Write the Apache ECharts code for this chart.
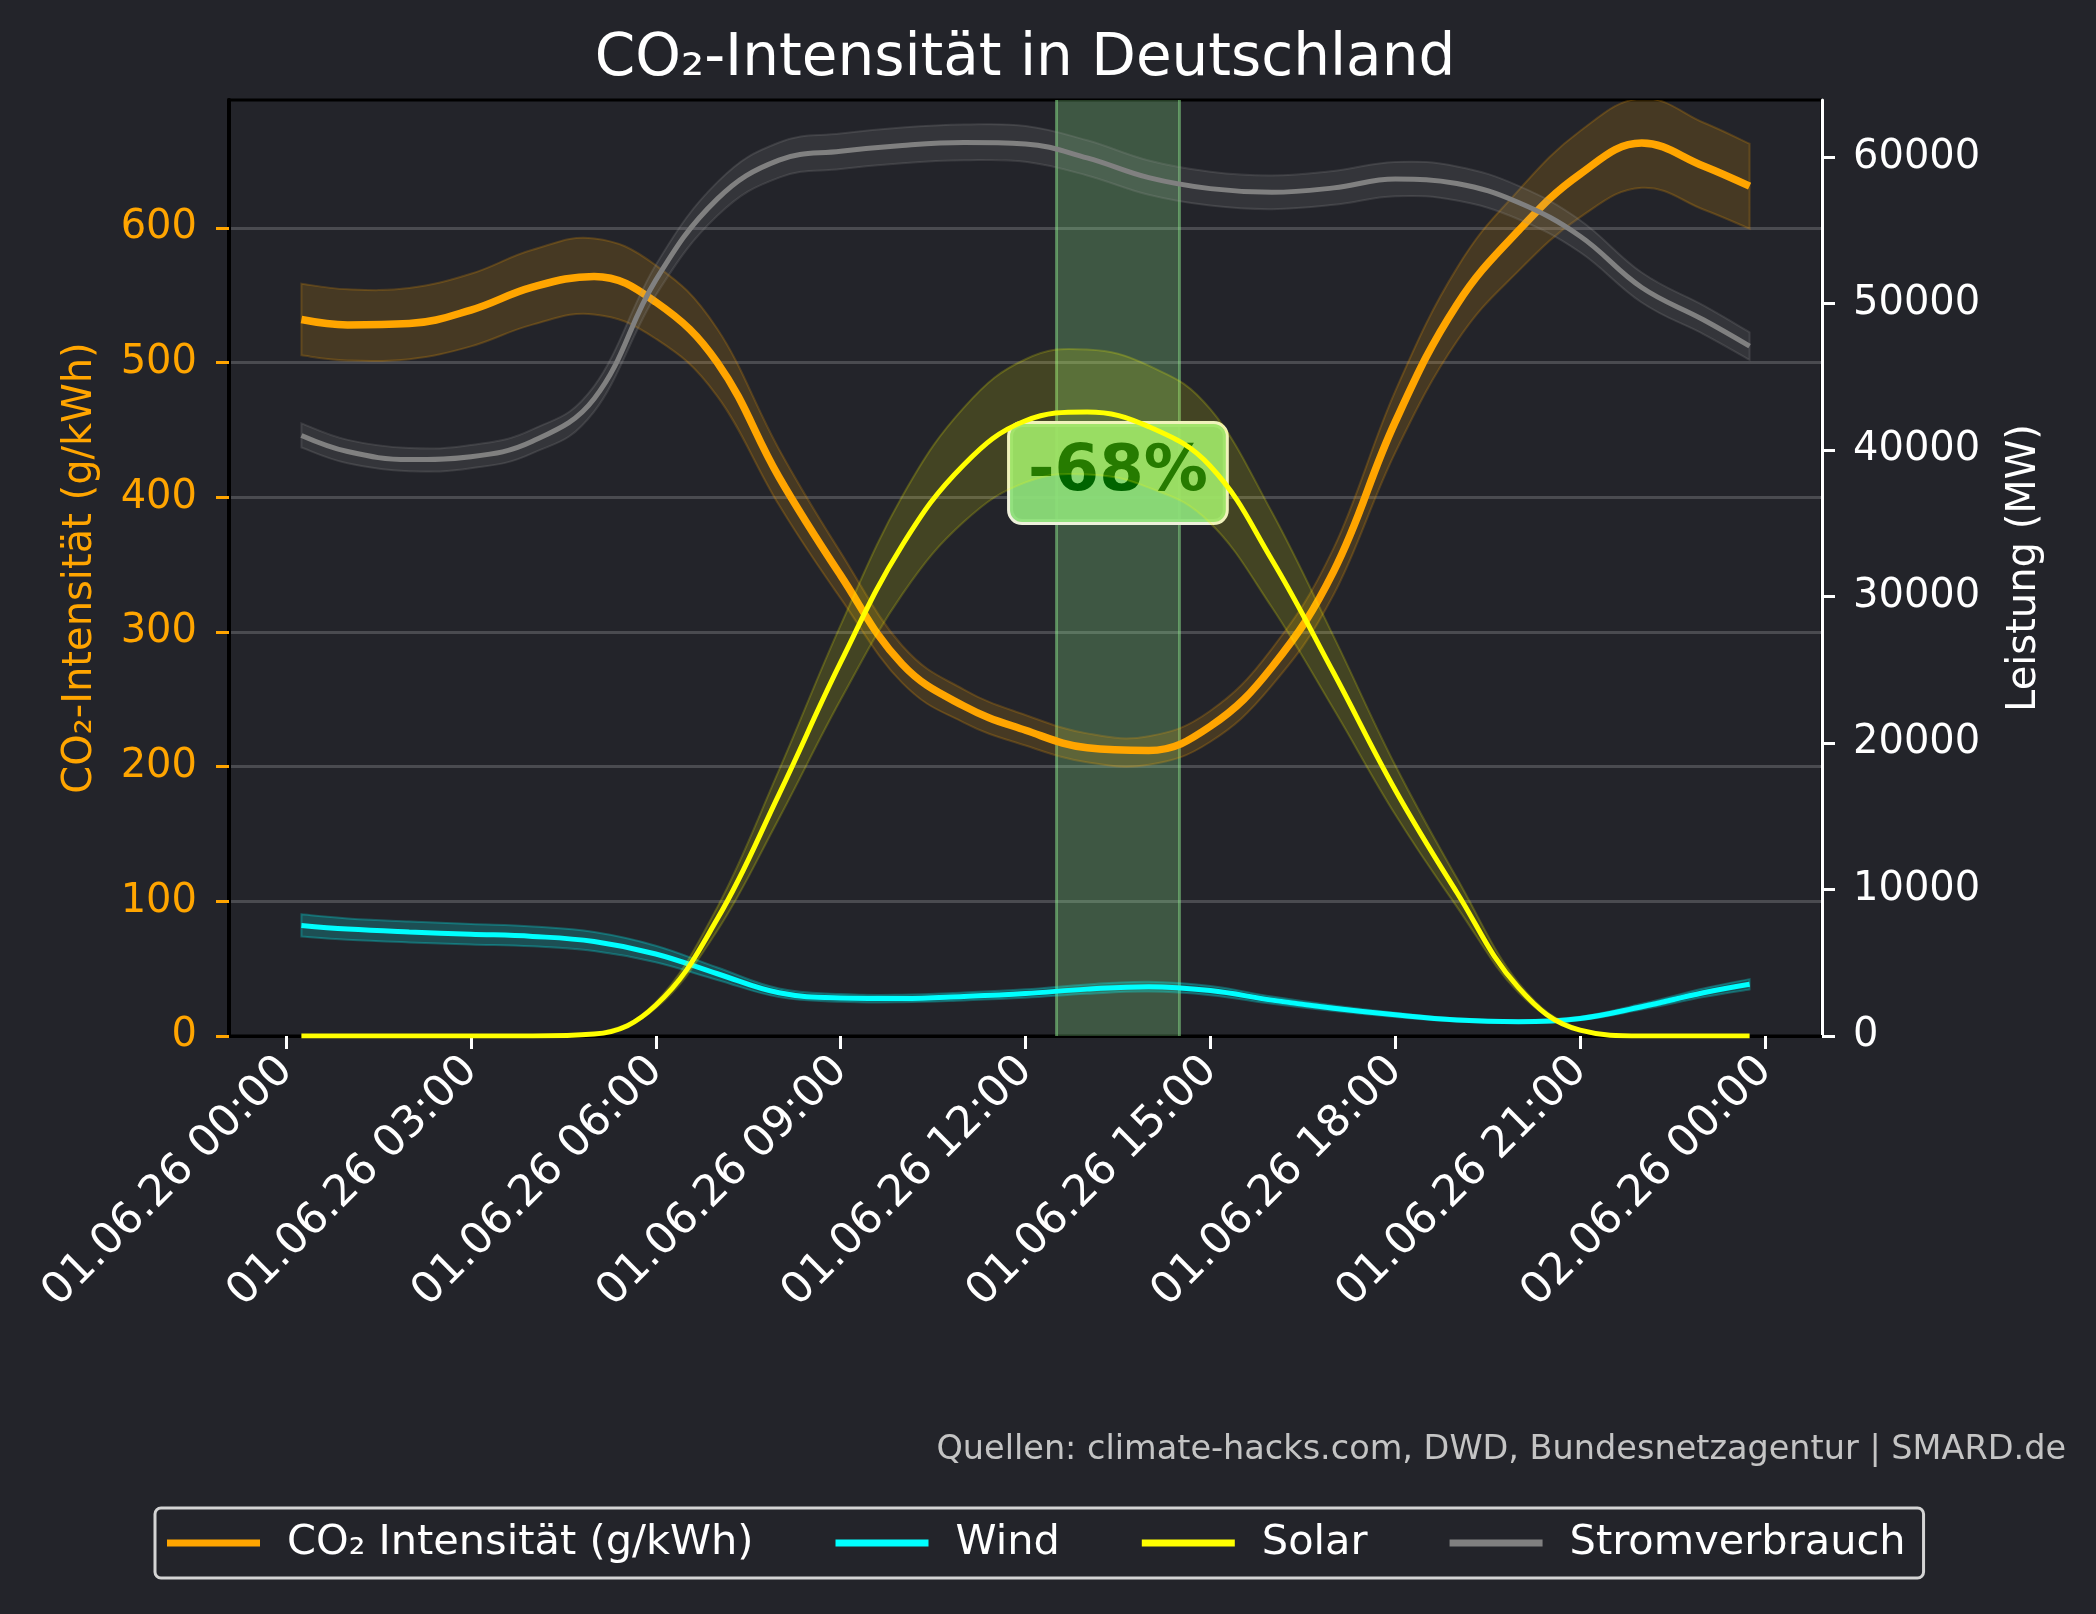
<!DOCTYPE html>
<html>
<head>
<meta charset="utf-8">
<script src="https://cdn.jsdelivr.net/npm/echarts@6/dist/echarts.min.js"></script>
<style>
  html, body { margin: 0; padding: 0; background: #23242a; }
  #chart { width: 2096px; height: 1614px; }
</style>
</head>
<body>
<div id="chart"></div>
<script>
// hours since 01.06.26 00:00
const hours = [0.25, 1, 2, 3, 4, 5, 6, 7, 8, 9, 10, 11, 12, 13, 14, 15, 16, 17, 18, 19, 20, 21, 22, 23, 23.75];
const co2 = [532, 528, 529, 539, 556, 564, 545, 500, 415, 342, 276, 245, 227, 214, 212, 230, 274, 345, 456, 543, 598, 640, 663, 646, 631];
const wind = [7550, 7300, 7100, 6950, 6800, 6450, 5600, 4250, 2950, 2600, 2560, 2700, 2900, 3200, 3370, 3100, 2450, 1900, 1450, 1100, 980, 1200, 2000, 2950, 3530];
const solar = [0, 0, 0, 0, 0, 130, 2100, 8000, 16500, 25500, 33500, 39000, 42000, 42600, 41600, 38900, 32500, 24800, 16800, 9800, 3300, 400, 0, 0, 0];
const consumption = [41000, 39900, 39350, 39550, 40600, 43500, 51600, 57150, 59800, 60400, 60800, 61000, 60900, 59950, 58600, 57850, 57600, 57900, 58500, 58200, 56900, 54600, 51100, 48900, 47100];

// relative uncertainty bands
const bandFrac = { co2: 0.05, wind: 0.10, solar: 0.10, consumption: 0.02 };

const xTicks = [0, 3, 6, 9, 12, 15, 18, 21, 24];
const cleanSpan = [12.5, 14.5];
const reductionLabel = '-68%';
const reductionAt = [13.5, 418];

const FONT = '"DejaVu Sans", sans-serif';
const BG = '#23242a';
const SMOOTH = 0.4;

const pts = (vals) => hours.map((h, i) => [h, vals[i]]);

// bezier segments through pixel points, close to the line series smoothing
const curve = (p) => {
  const k = SMOOTH / 2;
  let d = '';
  for (let i = 0; i < p.length - 1; i++) {
    const p0 = p[i - 1] || p[i], p1 = p[i], p2 = p[i + 1], p3 = p[i + 2] || p2;
    const c1 = [p1[0] + (p2[0] - p0[0]) * k, p1[1] + (p2[1] - p0[1]) * k];
    const c2 = [p2[0] - (p3[0] - p1[0]) * k, p2[1] - (p3[1] - p1[1]) * k];
    d += ` C${c1[0]},${c1[1]} ${c2[0]},${c2[1]} ${p2[0]},${p2[1]}`;
  }
  return d;
};

// uncertainty band: upper edge forward, lower edge back, flat ends
const bandSeries = (vals, frac, rgb, yAxisIndex, z, opacity) => ({
  type: 'custom', yAxisIndex, z, silent: true, clip: true,
  data: [0],
  renderItem: (params, api) => {
    const upper = hours.map((h, i) => api.coord([h, vals[i] * (1 + frac)]));
    const lower = hours.map((h, i) => api.coord([h, vals[i] * (1 - frac)])).reverse();
    const pathData = `M${upper[0][0]},${upper[0][1]}` + curve(upper) +
      ` L${lower[0][0]},${lower[0][1]}` + curve(lower) + ' Z';
    return {
      type: 'path',
      shape: { pathData },
      style: {
        fill: `rgba(${rgb},${opacity})`,
        stroke: `rgba(${rgb},${opacity * 1.3})`,
        lineWidth: 2,
      },
    };
  },
});

const fmtHour = (h) => {
  const day = h >= 24 ? '02' : '01';
  const hh = String(h % 24).padStart(2, '0');
  return day + '.06.26 ' + hh + ':00';
};

const chart = echarts.init(document.getElementById('chart'));

chart.setOption({
  animation: false,
  backgroundColor: BG,
  textStyle: { fontFamily: FONT },
  grid: {
    left: 229, right: 274, top: 100, bottom: 578,
    show: true, borderColor: '#000', borderWidth: 3, backgroundColor: BG,
  },
  graphic: [
    {
      type: 'text', x: 1025, y: 60, z: 10,
      style: { text: 'CO₂-Intensität in Deutschland', fill: '#ffffff', font: '58px ' + FONT, textAlign: 'center', textVerticalAlign: 'middle' },
    },
    {
      type: 'text', x: 2066, y: 1450, z: 10,
      style: { text: 'Quellen: climate-hacks.com, DWD, Bundesnetzagentur | SMARD.de', fill: '#c4c4c4', font: '33.5px ' + FONT, textAlign: 'right', textVerticalAlign: 'middle' },
    },
  ],
  legend: {
    left: 155, top: 1508,
    padding: [14, 18, 14, 12],
    itemWidth: 93, itemHeight: 7, itemGap: 82,
    icon: 'rect',
    borderColor: '#d4d4d4', borderWidth: 3, borderRadius: 6,
    backgroundColor: BG,
    textStyle: { color: '#ffffff', fontSize: 41.5, fontFamily: FONT, padding: [0, 0, 0, 22] },
    data: ['CO₂ Intensität (g/kWh)', 'Wind', 'Solar', 'Stromverbrauch'],
  },
  xAxis: {
    type: 'value', min: -0.925, max: 24.925,
    axisLine: { show: true, onZero: false, lineStyle: { color: '#000', width: 3 } },
    axisTick: { show: true, customValues: xTicks, length: 13, lineStyle: { color: '#fff', width: 3 } },
    axisLabel: {
      customValues: xTicks, rotate: 45, margin: 28,
      color: '#fff', fontSize: 43.5, fontFamily: FONT,
      formatter: fmtHour,
    },
    splitLine: { show: false },
  },
  yAxis: [
    {
      type: 'value', min: 0, max: 695, interval: 100,
      name: 'CO₂-Intensität (g/kWh)', nameLocation: 'middle', nameGap: 128,
      nameTextStyle: { color: '#ffa500', fontSize: 40, fontFamily: FONT },
      axisLine: { show: true, onZero: false, lineStyle: { color: '#000', width: 4 } },
      axisTick: { show: true, length: 13, lineStyle: { color: '#ffa500', width: 3 } },
      axisLabel: { color: '#ffa500', fontSize: 40, fontFamily: FONT, margin: 32,
        showMaxLabel: false, formatter: (v) => String(v) },
      splitLine: { show: true, showMinLine: false, showMaxLine: false, lineStyle: { color: '#4a4b50', width: 3 } },
    },
    {
      type: 'value', min: 0, max: 63900, interval: 10000, position: 'right',
      name: 'Leistung (MW)', nameLocation: 'middle', nameGap: 183,
      nameTextStyle: { color: '#ffffff', fontSize: 40, fontFamily: FONT },
      axisLine: { show: true, onZero: false, lineStyle: { color: '#ffffff', width: 3 } },
      axisTick: { show: true, length: 13, lineStyle: { color: '#ffffff', width: 3 } },
      axisLabel: { color: '#ffffff', fontSize: 40, fontFamily: FONT, margin: 31,
        showMaxLabel: false, formatter: (v) => String(v) },
      splitLine: { show: false },
    },
  ],
  series: [
    bandSeries(co2, bandFrac.co2, '255,165,0', 0, 2, 0.16),
    {
      type: 'line', name: 'CO₂ Intensität (g/kWh)', yAxisIndex: 0, z: 3,
      data: pts(co2), smooth: SMOOTH, symbol: 'none', color: '#ffa500',
      lineStyle: { color: '#ffa500', width: 7.5 },
      markArea: {
        silent: true, z: 1,
        itemStyle: { color: 'rgba(144,238,144,0.25)' },
        data: [[{ xAxis: cleanSpan[0] }, { xAxis: cleanSpan[1] }]],
      },
      markLine: {
        silent: true, z: 1, symbol: 'none', label: { show: false },
        lineStyle: { color: 'rgba(144,238,144,0.45)', width: 3, type: 'solid' },
        data: cleanSpan.map((h) => ({ xAxis: h })),
      },
      markPoint: {
        silent: true, z: 3, symbol: 'rect', symbolSize: 1,
        itemStyle: { color: 'rgba(0,0,0,0)' },
        label: {
          show: true, position: 'inside', formatter: reductionLabel,
          color: '#006400', fontSize: 64, fontWeight: 'bold', fontFamily: FONT,
          backgroundColor: 'rgba(140,222,120,0.95)', borderColor: '#eef0dc', borderWidth: 3,
          borderRadius: 12, padding: [17, 18, 17, 18],
        },
        data: [{ coord: reductionAt }],
      },
    },
    bandSeries(wind, bandFrac.wind, '0,255,255', 1, 4, 0.2),
    {
      type: 'line', name: 'Wind', yAxisIndex: 1, z: 4,
      data: pts(wind), smooth: SMOOTH, symbol: 'none', color: '#00ffff',
      lineStyle: { color: '#00ffff', width: 5 },
    },
    bandSeries(solar, bandFrac.solar, '255,255,0', 1, 5, 0.15),
    {
      type: 'line', name: 'Solar', yAxisIndex: 1, z: 5,
      data: pts(solar), smooth: SMOOTH, symbol: 'none', color: '#ffff00',
      lineStyle: { color: '#ffff00', width: 5 },
    },
    bandSeries(consumption, bandFrac.consumption, '154,154,154', 1, 6, 0.15),
    {
      type: 'line', name: 'Stromverbrauch', yAxisIndex: 1, z: 6,
      data: pts(consumption), smooth: SMOOTH, symbol: 'none', color: '#808080',
      lineStyle: { color: '#808080', width: 5 },
    },
  ],
});
</script>
</body>
</html>
